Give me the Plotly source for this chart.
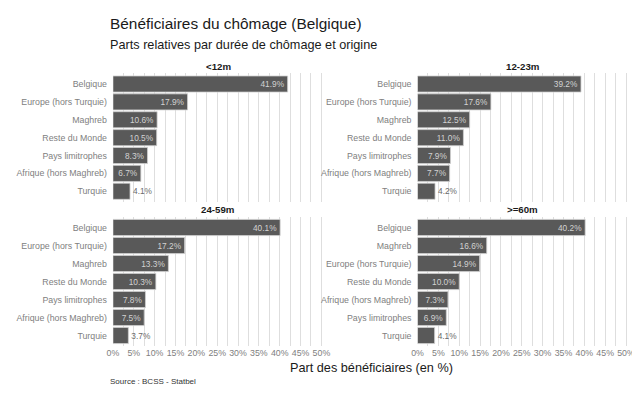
import plotly.graph_objects as go

panels = ["<12m", "12-23m", "24-59m", ">=60m"]

cats_12 = ["Belgique", "Europe (hors Turquie)", "Maghreb", "Reste du Monde", "Pays limitrophes", "Afrique (hors Maghreb)", "Turquie"]
vals_12 = [41.9, 17.9, 10.6, 10.5, 8.3, 6.7, 4.1]

cats_12_23 = ["Belgique", "Europe (hors Turquie)", "Maghreb", "Reste du Monde", "Pays limitrophes", "Afrique (hors Maghreb)", "Turquie"]
vals_12_23 = [39.2, 17.6, 12.5, 11.0, 7.9, 7.7, 4.2]

cats_24_59 = ["Belgique", "Europe (hors Turquie)", "Maghreb", "Reste du Monde", "Pays limitrophes", "Afrique (hors Maghreb)", "Turquie"]
vals_24_59 = [40.1, 17.2, 13.3, 10.3, 7.8, 7.5, 3.7]

cats_60 = ["Belgique", "Maghreb", "Europe (hors Turquie)", "Reste du Monde", "Afrique (hors Maghreb)", "Pays limitrophes", "Turquie"]
vals_60 = [40.2, 16.6, 14.9, 10.0, 7.3, 6.9, 4.1]

x_ticks = [0, 5, 10, 15, 20, 25, 30, 35, 40, 45, 50]

# page has an 8px body margin: figure is drawn from (8, 8)
OFF = 8
W, H = 640 - OFF, 393 - OFF
FONT = "Liberation Sans, Arial, Helvetica, sans-serif"
BAR = "#595959"
GRID = "#dedede"
TICKC = "#808080"


def px(x):
    return (x - OFF) / W


def py(y):
    return 1 - (y - OFF) / H


data = [(cats_12, vals_12), (cats_12_23, vals_12_23), (cats_24_59, vals_24_59), (cats_60, vals_60)]

# panel geometry in window pixels
xdoms = [(109, 324), (420, 635), (109, 324), (420, 635)]
ydoms = [(73.3, 202.0), (73.3, 202.0), (216.7, 346.3), (216.7, 346.3)]

fig = go.Figure()
for i, (cats, vals) in enumerate(data):
    n = i + 1
    xa = "x" if n == 1 else f"x{n}"
    ya = "y" if n == 1 else f"y{n}"
    fig.add_trace(go.Bar(
        x=vals, y=cats, orientation="h",
        xaxis=xa, yaxis=ya,
        marker=dict(color=BAR, line=dict(color="#d0d0d0", width=0.8)),
        text=[f"{v:.1f}%" for v in vals],
        textposition="auto",
        insidetextanchor="end",
        textangle=0,
        constraintext="none",
        insidetextfont=dict(color="#d2d2d2", size=8.3, family=FONT),
        outsidetextfont=dict(color="#6a6a6a", size=8.3, family=FONT),
        cliponaxis=False,
        hoverinfo="skip",
        showlegend=False,
    ))
    x0, x1 = xdoms[i]
    y0, y1 = ydoms[i]
    xkey = "xaxis" if n == 1 else f"xaxis{n}"
    ykey = "yaxis" if n == 1 else f"yaxis{n}"
    fig.layout[xkey] = dict(
        domain=[px(x0), px(x1)], anchor=ya, range=[0, 50.5],
        tickvals=x_ticks, ticktext=[f"{t}%" for t in x_ticks],
        showticklabels=(n >= 3),
        tickfont=dict(size=8.8, color=TICKC, family=FONT),
        showgrid=True, gridcolor=GRID, gridwidth=1,
        minor=dict(dtick=2.5, tick0=0, showgrid=True, gridcolor=GRID, gridwidth=1),
        zeroline=False, showline=False, ticks="",
        fixedrange=True,
    )
    fig.layout[ykey] = dict(
        domain=[py(y1), py(y0)], anchor=xa,
        categoryorder="array", categoryarray=cats,
        range=[len(cats) - 0.4, -0.6],
        tickfont=dict(size=8.8, color=TICKC, family=FONT),
        showgrid=False, zeroline=False, showline=False, ticks="",
        ticklabelstandoff=5,
        fixedrange=True,
    )

annotations = []
for i, p in enumerate(panels):
    x0, x1 = xdoms[i]
    y0, _ = ydoms[i]
    annotations.append(dict(
        text=f"<b>{p}</b>", x=px((x0 + x1) / 2), y=py(y0 - 6.8),
        xref="paper", yref="paper", xanchor="center", yanchor="middle",
        showarrow=False, font=dict(size=9.7, color="#1a1a1a", family=FONT)))

annotations += [
    dict(text="Bénéficiaires du chômage (Belgique)", x=px(104), y=py(23),
         xref="paper", yref="paper", xanchor="left", yanchor="middle",
         showarrow=False, font=dict(size=15.4, color="#1a1a1a", family=FONT)),
    dict(text="Parts relatives par durée de chômage et origine", x=px(104), y=py(45),
         xref="paper", yref="paper", xanchor="left", yanchor="middle",
         showarrow=False, font=dict(size=12.7, color="#1a1a1a", family=FONT)),
    dict(text="Part des bénéficiaires (en %)", x=px(373), y=py(368),
         xref="paper", yref="paper", xanchor="center", yanchor="middle",
         showarrow=False, font=dict(size=12.7, color="#1a1a1a", family=FONT)),
    dict(text="Source : BCSS - Statbel", x=px(104), y=py(381),
         xref="paper", yref="paper", xanchor="left", yanchor="middle",
         showarrow=False, font=dict(size=8, color="#333333", family=FONT)),
]

fig.update_layout(
    width=W, height=H,
    margin=dict(l=0, r=0, t=0, b=0),
    paper_bgcolor="white", plot_bgcolor="white",
    bargap=0.1,
    annotations=annotations,
    font=dict(family=FONT),
)

fig.write_html("out.html")
